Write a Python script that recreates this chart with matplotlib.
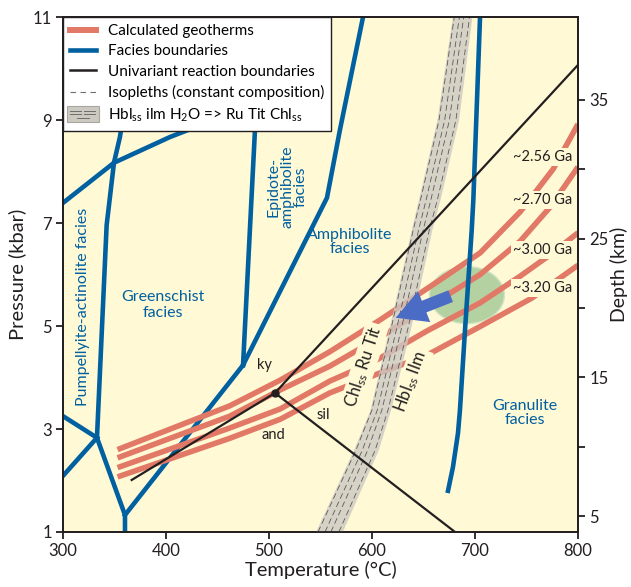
import matplotlib
matplotlib.use("Agg")
import matplotlib.pyplot as plt
from matplotlib.patches import Ellipse, Rectangle
from matplotlib.lines import Line2D
from matplotlib.legend_handler import HandlerBase

plt.rcParams['font.family'] = ['Lato', 'DejaVu Sans']
plt.rcParams['mathtext.default'] = 'regular'

# colours
BG = '#FFF9D6'
GEO = '#E27866'
FAC = '#0060A0'
INK = '#231F20'
BAND = '#CCC9C1'

# calculated geotherms (T in degC, P in kbar)
geo_256_T = [353, 462, 511, 559, 608, 656, 705, 744, 776, 800]
geo_256_P = [2.60, 3.45, 3.95, 4.50, 5.12, 5.76, 6.42, 7.22, 8.05, 8.92]
geo_270_T = [353, 462, 511, 559, 610, 656, 705, 744, 773, 800]
geo_270_P = [2.44, 3.25, 3.76, 4.22, 4.81, 5.39, 6.00, 6.65, 7.31, 8.09]
geo_300_T = [353, 462, 511, 559, 601, 653, 705, 744, 770, 800]
geo_300_P = [2.25, 3.02, 3.39, 3.93, 4.30, 4.90, 5.45, 5.97, 6.34, 6.81]
geo_320_T = [353, 462, 511, 559, 608, 653, 705, 755, 800]
geo_320_P = [2.07, 2.82, 3.19, 3.70, 4.09, 4.43, 4.99, 5.54, 6.18]
geo_labels = ['~2.56 Ga', '~2.70 Ga', '~3.00 Ga', '~3.20 Ga']
geo_label_P = [8.28, 7.45, 6.48, 5.74]

# facies boundaries
fac_lines = [
    ([300, 349.5, 403.9, 440], [7.39, 8.17, 8.67, 8.95]),
    ([333, 342.4, 349.5, 355.3, 361.6], [2.83, 6.96, 8.17, 8.67, 9.5]),
    ([300, 333], [3.25, 2.83]),
    ([300, 333], [2.09, 2.83]),
    ([333, 360.2, 360.2], [2.83, 1.33, 1.0]),
    ([360.2, 474.8], [1.33, 4.24]),
    ([474.8, 486.4, 489], [4.24, 8.81, 9.6]),
    ([474.8, 556.3, 568.9, 591.3], [4.24, 7.49, 8.81, 11.0]),
]
gran_T = [704.9, 698.4, 696.8, 690.3, 685.4, 683.5, 678.6, 673.8]
gran_P = [11.0, 7.45, 6.86, 4.92, 3.37, 2.92, 2.26, 1.80]

# Al2SiO5 reactions
triple = (505.8, 3.70)
ky_sil_end = (800, 10.07)
and_ky_end = (366.7, 2.01)
and_sil_end = (680.6, 1.0)

# Hbl ilm H2O => Ru Tit Chl band
band_P = [1.0, 2.59, 3.37, 5.0, 6.86, 7.45, 9.0, 11.0]
band_Tl = [545, 582, 598, 617, 638, 645, 663, 678]
band_Tr = [571, 606, 618, 638, 658, 666, 684, 697]
iso_frac = [0.1, 0.36, 0.58, 0.88]

# sample P-T estimate and arrow
ell_center = (692.2, 5.60)
ell_w, ell_h = 72.8, 1.11
arrow_from = (676.4, 5.58)
arrow_to = (623.0, 5.16)

fig = plt.figure(figsize=(6.31, 5.87), dpi=100)
ax = fig.add_axes([0.0998, 0.0937, 0.8162, 0.8773])
ax.set_facecolor(BG)
ax.set_xlim(300, 800)
ax.set_ylim(1, 11)

ax.add_patch(Ellipse(ell_center, ell_w, ell_h, facecolor='#B4D1A2',
                     edgecolor='#D3E5C4', lw=1, zorder=1.5))

for T, P in fac_lines:
    ax.plot(T, P, color=FAC, lw=3.3, solid_joinstyle='miter', zorder=1.8)
ax.plot(gran_T, gran_P, color=FAC, lw=3.3, zorder=4)

geos = [(geo_256_T, geo_256_P), (geo_270_T, geo_270_P),
        (geo_300_T, geo_300_P), (geo_320_T, geo_320_P)]
for T, P in geos:
    ax.plot(T, P, color=GEO, lw=4.0, solid_capstyle='butt', zorder=2)

txt_bbox = dict(facecolor=BG, edgecolor='none', pad=1.5)
for lab, p in zip(geo_labels, geo_label_P):
    ax.text(766, p, lab, ha='center', va='center', fontsize=10.5, color=INK,
            bbox=txt_bbox, zorder=2.5)

ax.text(592.2, 4.22, 'Chl$_{ss}$ Ru Tit', rotation=72, ha='center', va='center',
        fontsize=12, color=INK, bbox=txt_bbox, zorder=2.5)
ax.text(637.9, 3.93, 'Hbl$_{ss}$ Ilm', rotation=70, ha='center', va='center',
        fontsize=12, color=INK, bbox=txt_bbox, zorder=2.5)

# band and isopleths
ax.fill_betweenx(band_P, band_Tl, band_Tr, color=BAND, alpha=0.8, lw=0, zorder=3)
for f in iso_frac:
    iso_T = [l + f * (r - l) for l, r in zip(band_Tl, band_Tr)]
    ax.plot(iso_T, band_P, color='#5A5A5A', lw=0.6, dashes=(7, 4), zorder=3.2)

# univariant reactions
for end in (ky_sil_end, and_ky_end, and_sil_end):
    ax.plot([triple[0], end[0]], [triple[1], end[1]], color=INK, lw=1.6, zorder=4)
ax.plot(*triple, 'o', color=INK, ms=5, zorder=4.5)
ax.text(496, 4.24, 'ky', fontsize=10.5, color=INK, ha='center', va='center')
ax.text(552.4, 3.27, 'sil', fontsize=10.5, color=INK, ha='center', va='center')
ax.text(504, 2.88, 'and', fontsize=10.5, color=INK, ha='center', va='center')

# facies names
fk = dict(color=FAC, fontsize=11.5, ha='center', va='center', multialignment='center')
ax.text(319.4, 5.37, 'Pumpellyite-actinolite facies', rotation=90, **fk)
ax.text(397, 5.41, 'Greenschist\nfacies', **fk)
ax.text(517.5, 7.70, 'Epidote-\namphibolite\nfacies', rotation=90, linespacing=1.0, **fk)
ax.text(578.6, 6.63, 'Amphibolite\nfacies', linespacing=1.05, **fk)
ax.text(748.5, 3.31, 'Granulite\nfacies', linespacing=1.05, **fk)

ax.annotate('', xy=arrow_to, xytext=arrow_from, zorder=6,
            arrowprops=dict(arrowstyle='simple,head_length=2.2,head_width=2.4,tail_width=0.9',
                            mutation_scale=10, color='#4A6CC4', lw=0, shrinkA=0, shrinkB=0))

# axes styling
for s in ax.spines.values():
    s.set_linewidth(1.3)
    s.set_color(INK)
ax.set_xticks([300, 400, 500, 600, 700, 800])
ax.set_yticks([1, 3, 5, 7, 9, 11])
ax.tick_params(direction='out', length=5, width=1.3, labelsize=12, colors=INK, pad=3)
ax.set_xlabel('Temperature (°C)', fontsize=14.5, color=INK, labelpad=1)
ax.set_ylabel('Pressure (kbar)', fontsize=14.5, color=INK, labelpad=5)

ax2 = ax.twinx()
ax2.set_ylim(3.85, 40.98)
ax2.set_yticks([5, 10, 15, 20, 25, 30, 35])
ax2.set_yticklabels(['5', '', '15', '', '25', '', '35'])
ax2.tick_params(direction='out', length=5, width=1.3, labelsize=12, colors=INK, pad=3)
ax2.set_ylabel('Depth (km)', fontsize=14, color=INK, labelpad=1)
for s in ax2.spines.values():
    s.set_linewidth(1.3)
    s.set_color(INK)


class BandHandler(HandlerBase):
    def create_artists(self, legend, orig_handle, xdescent, ydescent,
                       width, height, fontsize, trans):
        x0, y0 = -xdescent - 2, -ydescent - 0.25 * height
        w, h = width + 4, height * 1.5
        arts = [Rectangle((x0, y0), w, h, facecolor=BAND, edgecolor='#A8A6A0',
                          lw=0.8, transform=trans)]
        for fy, xa, xb in [(0.72, 0.1, 0.45), (0.72, 0.55, 0.9),
                           (0.5, 0.1, 0.45), (0.5, 0.55, 0.9), (0.28, 0.3, 0.7)]:
            arts.append(Line2D([x0 + xa * w, x0 + xb * w], [y0 + fy * h] * 2,
                               color='#6E6E6E', lw=0.7, transform=trans))
        return arts


handles = [Line2D([], [], color=GEO, lw=4.3),
           Line2D([], [], color=FAC, lw=3.3),
           Line2D([], [], color=INK, lw=1.8),
           Line2D([], [], color='#6E6E6E', lw=0.8, dashes=(5, 4)),
           Rectangle((0, 0), 1, 1)]
labels = ['Calculated geotherms', 'Facies boundaries', 'Univariant reaction boundaries',
          'Isopleths (constant composition)', 'Hbl$_{ss}$ ilm H$_2$O => Ru Tit Chl$_{ss}$']
leg = ax.legend(handles, labels, loc='upper left', bbox_to_anchor=(0, 1),
                borderaxespad=0, fontsize=11, handlelength=1.7, handletextpad=0.8,
                labelspacing=0.42, borderpad=0.45, fancybox=False, framealpha=1,
                edgecolor=INK, handler_map={Rectangle: BandHandler()})
leg.get_frame().set_linewidth(1.0)
leg.set_zorder(10)

fig.savefig('out.png', dpi=100, facecolor='white')
